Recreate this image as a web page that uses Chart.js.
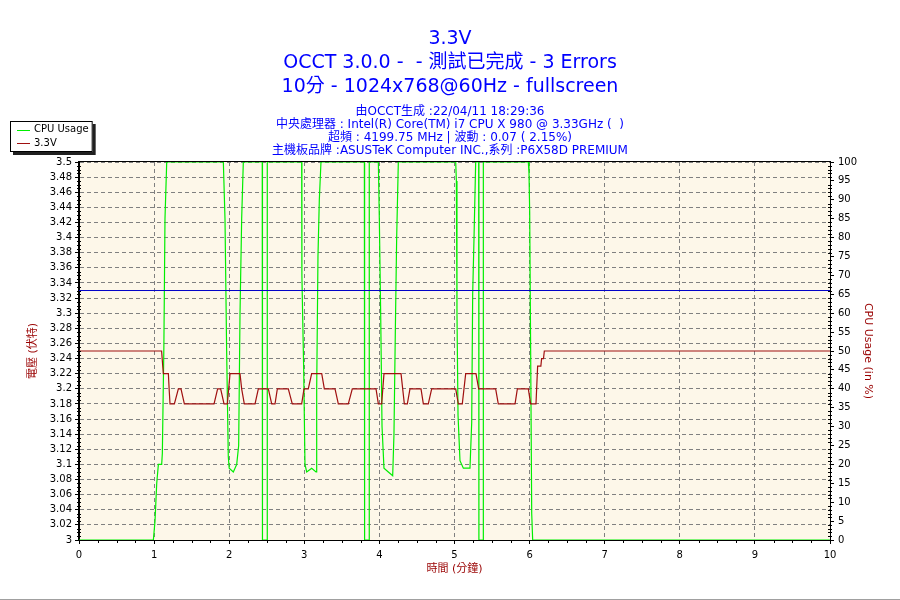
<!DOCTYPE html>
<html>
<head>
<meta charset="utf-8">
<title>3.3V</title>
<script src="https://cdn.jsdelivr.net/npm/chart.js@4/dist/chart.umd.min.js"></script>
<style>
  html, body { margin: 0; padding: 0; background: #ffffff; }
</style>
</head>
<body>
<canvas id="occtChart" width="900" height="600"></canvas>
<script>
// texts
const titleLines = ['3.3V', 'OCCT 3.0.0 -  - 測試已完成 - 3 Errors', '10分 - 1024x768@60Hz - fullscreen'];
const infoLines = [
    '由OCCT生成 :22/04/11 18:29:36',
    '中央處理器 : Intel(R) Core(TM) i7 CPU X 980 @ 3.33GHz (  )',
    '超頻 : 4199.75 MHz | 波動 : 0.07 ( 2.15%)',
    '主機板品牌 :ASUSTeK Computer INC.,系列 :P6X58D PREMIUM'
];

// axes
const timeRange = [0, 10];
const voltRange = [3, 3.5];
const cpuRange = [0, 100];
const nominalVolt = 3.33;

// 3.3V rail (minutes / volts)
const voltTimes = [0, 1.100, 1.115, 1.123, 1.190, 1.200, 1.212, 1.270, 1.323, 1.358, 1.403, 1.798, 1.846, 1.886, 1.931, 1.975,
    2.011, 2.144, 2.166, 2.201, 2.344, 2.388, 2.521, 2.566, 2.610, 2.641, 2.787, 2.840, 2.965, 2.996, 3.053, 3.098,
    3.232, 3.267, 3.409, 3.453, 3.586, 3.639, 3.955, 3.986, 4.030, 4.061, 4.288, 4.332, 4.372, 4.407, 4.554, 4.585,
    4.651, 4.696, 5.016, 5.051, 5.104, 5.149, 5.286, 5.322, 5.548, 5.583, 5.806, 5.837, 5.983, 6.014, 6.085, 6.107,
    6.150, 6.160, 6.185, 6.196, 10];
const voltValues = [3.25, 3.25, 3.23, 3.22, 3.22, 3.20, 3.18, 3.18, 3.20, 3.20, 3.18, 3.18, 3.20, 3.20, 3.18, 3.18,
    3.22, 3.22, 3.20, 3.18, 3.18, 3.20, 3.20, 3.18, 3.18, 3.20, 3.20, 3.18, 3.18, 3.20, 3.20, 3.22,
    3.22, 3.20, 3.20, 3.18, 3.18, 3.20, 3.20, 3.18, 3.18, 3.22, 3.22, 3.18, 3.18, 3.20, 3.20, 3.18,
    3.18, 3.20, 3.20, 3.18, 3.18, 3.22, 3.22, 3.20, 3.20, 3.18, 3.18, 3.20, 3.20, 3.18, 3.18, 3.23,
    3.23, 3.24, 3.24, 3.25, 3.25];

// CPU usage (minutes / %)
const cpuTimes = [0, 0.990, 1.012, 1.035, 1.057, 1.101, 1.110, 1.130, 1.145, 1.168, 1.922, 1.944, 1.966, 1.988, 2.000,
    2.055, 2.100, 2.126, 2.144, 2.166, 2.188, 2.440, 2.443, 2.504, 2.507, 2.965, 2.968, 2.992, 3.009, 3.032, 3.098,
    3.156, 3.165, 3.182, 3.200, 3.222, 3.800, 3.803, 3.862, 3.865, 3.986, 3.999, 4.017, 4.035, 4.061, 4.119, 4.177,
    4.194, 4.212, 4.230, 4.252, 5.016, 5.025, 5.033, 5.047, 5.073, 5.118, 5.206, 5.229, 5.242, 5.260, 5.282, 5.322,
    5.325, 5.381, 5.384, 5.983, 5.992, 6.001, 6.014, 6.028, 6.041, 10];
const cpuValues = [0, 0, 5, 15, 20, 20, 23, 51, 85, 100, 100, 85, 50, 22, 19,
    18, 20, 25, 60, 85, 100, 100, 0, 0, 100, 100, 70, 45, 20, 18, 19,
    18, 40, 75, 90, 100, 100, 0, 0, 100, 100, 85, 60, 30, 19, 18, 17,
    28, 55, 80, 100, 100, 95, 60, 33, 21, 19, 19, 31, 65, 80, 100, 100,
    0, 0, 100, 100, 97, 87, 50, 7, 0, 0];

const FONT = "'DejaVu Sans', 'Noto Sans CJK TC', sans-serif";
const plotBg = '#fdf7e9';
const gridGray = '#808080';

const toPoints = (xs, ys) => xs.map((x, i) => ({x: x, y: ys[i]}));

// background, frame, minor ticks and the boxed legend
const occtDecor = {
    id: 'occtDecor',
    beforeDraw(chart) {
        const {ctx, chartArea: a} = chart;
        ctx.save();
        ctx.fillStyle = '#ffffff';
        ctx.fillRect(0, 0, chart.width, chart.height);
        ctx.fillStyle = plotBg;
        ctx.fillRect(a.left, a.top, a.right - a.left, a.bottom - a.top);
        ctx.restore();
    },
    afterDraw(chart) {
        const {ctx, chartArea: a, scales} = chart;
        ctx.save();
        ctx.strokeStyle = '#000000';
        ctx.lineWidth = 1;

        // minor ticks
        ctx.beginPath();
        for (let i = 0; i <= 100; i++) {
            if (i % 4 === 0) continue;
            const py = Math.round(scales.y.getPixelForValue(voltRange[0] + i * 0.005)) + 0.5;
            ctx.moveTo(a.left - 2, py); ctx.lineTo(a.left + 2, py);
        }
        for (let i = 0; i <= 100; i++) {
            if (i % 5 === 0) continue;
            const py = Math.round(scales.y2.getPixelForValue(i)) + 0.5;
            ctx.moveTo(a.right - 2, py); ctx.lineTo(a.right + 2, py);
        }
        for (let i = 0; i <= 40; i++) {
            if (i % 4 === 0) continue;
            const px = Math.round(scales.x.getPixelForValue(i * 0.25)) + 0.5;
            ctx.moveTo(px, a.bottom); ctx.lineTo(px, a.bottom + 3);
        }
        ctx.stroke();

        // frame round the plot
        ctx.strokeRect(Math.round(a.left) - 0.5, Math.round(a.top) - 0.5,
            Math.round(a.right - a.left) + 1, Math.round(a.bottom - a.top) + 1);

        // legend box with shadow
        const items = chart.data.datasets.filter(d => d.showInLegend);
        ctx.font = '10px ' + FONT;
        const textW = Math.max(...items.map(d => ctx.measureText(d.label).width));
        const bx = 10, by = 121, bw = 24 + textW + 4, bh = 31;
        ctx.fillStyle = '#202020';
        ctx.fillRect(bx + 3, by + 3, bw, bh);
        ctx.fillStyle = '#ffffff';
        ctx.fillRect(bx, by, bw, bh);
        ctx.strokeRect(bx + 0.5, by + 0.5, bw - 1, bh - 1);
        items.forEach((d, i) => {
            const cy = by + 8.5 + i * 13.5;
            ctx.strokeStyle = d.borderColor;
            ctx.beginPath();
            ctx.moveTo(bx + 7, Math.round(cy) + 0.5);
            ctx.lineTo(bx + 20, Math.round(cy) + 0.5);
            ctx.stroke();
            ctx.fillStyle = '#000000';
            ctx.textBaseline = 'middle';
            ctx.fillText(d.label, bx + 24, cy);
        });

        // window edge at the bottom
        ctx.strokeStyle = '#a0a0a0';
        ctx.beginPath();
        ctx.moveTo(0, chart.height - 0.5); ctx.lineTo(chart.width, chart.height - 0.5);
        ctx.stroke();
        ctx.restore();
    }
};

const occtChart = new Chart(document.getElementById('occtChart').getContext('2d'), {
    type: 'line',
    data: {
        datasets: [{
            label: 'CPU Usage',
            showInLegend: true,
            data: toPoints(cpuTimes, cpuValues),
            yAxisID: 'y2',
            borderColor: '#00ee00',
            borderWidth: 1.2,
            pointRadius: 0,
            order: 2
        }, {
            label: '3.3V',
            showInLegend: true,
            data: toPoints(voltTimes, voltValues),
            yAxisID: 'y',
            borderColor: '#a01010',
            borderWidth: 1.2,
            pointRadius: 0,
            order: 0
        }, {
            label: 'nominal',
            showInLegend: false,
            data: toPoints(timeRange, [nominalVolt, nominalVolt]),
            yAxisID: 'y',
            borderColor: '#0000c8',
            borderWidth: 1,
            pointRadius: 0,
            order: 1
        }]
    },
    options: {
        responsive: false,
        animation: false,
        layout: { padding: 0 },
        plugins: {
            legend: { display: false },
            tooltip: { enabled: false },
            title: {
                display: true,
                text: titleLines,
                color: '#0000ff',
                font: { family: FONT, size: 19, weight: 'normal', lineHeight: '24px' },
                padding: { top: 27, bottom: 0 }
            },
            subtitle: {
                display: true,
                text: infoLines,
                color: '#0000ff',
                font: { family: FONT, size: 12, weight: 'normal', lineHeight: '13px' },
                padding: { top: 6, bottom: 5 }
            }
        },
        scales: {
            x: {
                type: 'linear',
                min: timeRange[0],
                max: timeRange[1],
                afterFit: (s) => { s.height = 60; },
                ticks: { stepSize: 1, color: '#000000', padding: 5, maxRotation: 0, font: { family: FONT, size: 10 } },
                grid: { color: gridGray, tickColor: '#000000', tickLength: 4 },
                border: { color: '#000000', dash: [4, 3] },
                title: {
                    display: true, text: '時間 (分鐘)', color: '#990000',
                    font: { family: FONT, size: 11 }, padding: { top: 0, bottom: 24 }
                }
            },
            y: {
                position: 'left',
                min: voltRange[0],
                max: voltRange[1],
                afterFit: (s) => { s.width = 79; },
                ticks: {
                    stepSize: 0.02, color: '#000000', padding: 3, font: { family: FONT, size: 10 },
                    callback: (v) => String(Number(v.toFixed(2)))
                },
                grid: { color: gridGray, tickColor: '#000000', tickLength: 4 },
                border: { color: '#000000', dash: [4, 3] },
                title: {
                    display: true, text: '電壓 (伏特)', color: '#990000',
                    font: { family: FONT, size: 11 }, padding: { top: 27, bottom: 0 }
                }
            },
            y2: {
                position: 'right',
                min: cpuRange[0],
                max: cpuRange[1],
                afterFit: (s) => { s.width = 70; },
                ticks: { stepSize: 5, color: '#000000', padding: 4, font: { family: FONT, size: 10 } },
                grid: { drawOnChartArea: false, tickColor: '#000000', tickLength: 4 },
                border: { color: '#000000' },
                title: {
                    display: true, text: 'CPU Usage (in %)', color: '#990000',
                    font: { family: FONT, size: 11 }, padding: { top: 26, bottom: 0 }
                }
            }
        }
    },
    plugins: [occtDecor]
});
</script>
</body>
</html>
